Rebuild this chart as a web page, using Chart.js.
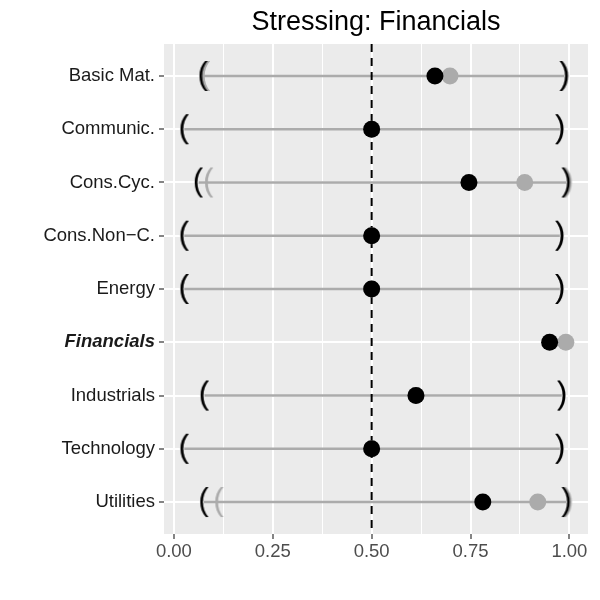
<!DOCTYPE html>
<html>
<head>
<meta charset="utf-8">
<script src="https://cdn.jsdelivr.net/npm/chart.js@4"></script>
<style>body{margin:0;background:#fff}</style>
</head>
<body>
<canvas id="chartStress" width="600" height="600"></canvas>
<script>
// 图中读取的数据
const sectors = ['Basic Mat.', 'Communic.', 'Cons.Cyc.', 'Cons.Non−C.', 'Energy', 'Financials', 'Industrials', 'Technology', 'Utilities'];
const stressedPoint = [0.660, 0.500, 0.746, 0.500, 0.500, 0.950, 0.612, 0.500, 0.781];
const basePoint     = [0.698, 0.500, 0.887, 0.500, 0.500, 0.991, 0.612, 0.500, 0.920];
const stressedLow   = [0.075, 0.027, 0.063, 0.027, 0.027, null, 0.078, 0.027, 0.077];
const stressedHigh  = [0.986, 0.975, 0.991, 0.975, 0.975, null, 0.980, 0.975, 0.991];
const baseLow       = [0.081, 0.027, 0.089, 0.027, 0.027, null, 0.078, 0.027, 0.115];
const baseHigh      = [0.988, 0.975, 0.996, 0.975, 0.975, null, 0.980, 0.975, 0.996];
const xTicks = [0, 0.125, 0.25, 0.375, 0.5, 0.625, 0.75, 0.875, 1];
const refLine = 0.5;
const highlight = 'Financials';
const chartTitle = 'Stressing: Financials';

const FONT = '"Liberation Sans", Arial, sans-serif';
const GREY = '#ababab';

// 括号符号做成点样式
function makeGlyph(ch, color) {
    const c = document.createElement('canvas');
    let g = c.getContext('2d');
    g.font = '31px ' + FONT;
    const m = g.measureText(ch);
    const w = Math.ceil(m.actualBoundingBoxLeft + m.actualBoundingBoxRight) + 2;
    const h = Math.ceil(m.actualBoundingBoxAscent + m.actualBoundingBoxDescent) + 2;
    c.width = w;
    c.height = h;
    g = c.getContext('2d');
    g.font = '31px ' + FONT;
    g.fillStyle = color;
    g.fillText(ch, 1 + m.actualBoundingBoxLeft, 1 + m.actualBoundingBoxAscent);
    return c;
}

function toPoints(values) {
    return values.map((v, i) => ({ x: v, y: i })).filter(p => p.x !== null);
}

const isMajor = v => Math.abs(v * 4 - Math.round(v * 4)) < 1e-6;

const segments = sectors
    .map((s, i) => stressedLow[i] === null ? null : { y: i, x: [stressedLow[i], stressedHigh[i]] })
    .filter(Boolean);

const panelBg = {
    id: 'panelBg',
    beforeDraw(chart) {
        const { ctx, chartArea: a } = chart;
        ctx.save();
        ctx.fillStyle = '#ebebeb';
        ctx.fillRect(a.left, a.top, a.right - a.left, a.bottom - a.top);
        ctx.restore();
    }
};

new Chart(document.getElementById('chartStress'), {
    type: 'bar',
    data: {
        datasets: [
            { type: 'scatter', data: toPoints(stressedPoint), pointRadius: 8.5, pointBackgroundColor: '#000', pointBorderWidth: 0, order: 1 },
            { type: 'scatter', data: toPoints(basePoint), pointRadius: 8.5, pointBackgroundColor: GREY, pointBorderWidth: 0, order: 2 },
            { type: 'scatter', data: toPoints(stressedLow), pointStyle: makeGlyph('(', '#000'), pointRadius: 5, order: 3 },
            { type: 'scatter', data: toPoints(stressedHigh), pointStyle: makeGlyph(')', '#000'), pointRadius: 5, order: 3 },
            { type: 'scatter', data: toPoints(baseLow), pointStyle: makeGlyph('(', GREY), pointRadius: 5, order: 4 },
            { type: 'scatter', data: toPoints(baseHigh), pointStyle: makeGlyph(')', GREY), pointRadius: 5, order: 4 },
            { type: 'line', data: [{ x: refLine, y: -0.6 }, { x: refLine, y: sectors.length - 0.4 }],
              borderColor: '#000', borderWidth: 2, borderDash: [8, 6], pointRadius: 0, order: 5 },
            { type: 'bar', data: segments, backgroundColor: GREY, borderWidth: 0, barThickness: 2, grouped: false, order: 6 }
        ]
    },
    options: {
        indexAxis: 'y',
        responsive: false,
        animation: false,
        layout: { padding: { left: 0, right: 12, top: 0, bottom: 0 } },
        plugins: {
            legend: { display: false },
            tooltip: { enabled: false },
            title: {
                display: true,
                text: chartTitle,
                fullSize: false,
                color: '#000',
                font: { family: FONT, size: 27, weight: 'normal', lineHeight: 1.2 },
                padding: { top: 6.5, bottom: 5.1 }
            }
        },
        scales: {
            x: {
                type: 'linear',
                min: -0.025,
                max: 1.047,
                beginAtZero: false,
                offset: false,
                afterBuildTicks: scale => { scale.ticks = xTicks.map(v => ({ value: v })); },
                afterFit: scale => { scale.height = 66; },
                border: { display: false },
                grid: {
                    offset: false,
                    color: '#ffffff',
                    lineWidth: ctx => isMajor(ctx.tick.value) ? 2 : 1,
                    tickLength: 5,
                    tickWidth: 1.2,
                    tickColor: ctx => isMajor(ctx.tick.value) ? '#333333' : 'rgba(0,0,0,0)'
                },
                ticks: {
                    autoSkip: false,
                    maxRotation: 0,
                    padding: 2,
                    color: '#4d4d4d',
                    font: { family: FONT, size: 18.5 },
                    callback: v => isMajor(v) ? v.toFixed(2) : ''
                }
            },
            y: {
                type: 'linear',
                min: -0.6,
                max: sectors.length - 0.4,
                reverse: true,
                offset: false,
                beginAtZero: false,
                afterBuildTicks: scale => { scale.ticks = sectors.map((s, i) => ({ value: i })); },
                afterFit: scale => { scale.width = 164; },
                border: { display: false },
                grid: {
                    offset: false,
                    color: '#ffffff',
                    lineWidth: 2,
                    tickLength: 5,
                    tickWidth: 1.2,
                    tickColor: '#333333'
                },
                ticks: {
                    autoSkip: false,
                    padding: 4,
                    color: '#1a1a1a',
                    font: ctx => (ctx.tick && sectors[ctx.tick.value] === highlight)
                        ? { family: FONT, size: 18.5, style: 'italic', weight: 'bold' }
                        : { family: FONT, size: 18.5 },
                    callback: v => sectors[v]
                }
            }
        }
    },
    plugins: [panelBg]
});
</script>
</body>
</html>
